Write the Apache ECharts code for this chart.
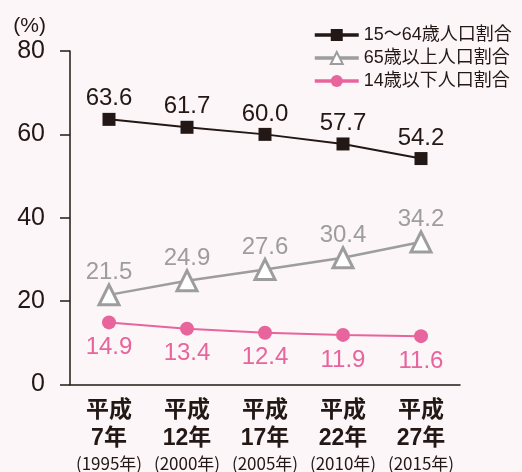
<!DOCTYPE html>
<html>
<head>
<meta charset="utf-8">
<script src="https://cdn.jsdelivr.net/npm/echarts@6/dist/echarts.min.js"></script>
<style>
  html, body { margin: 0; padding: 0; background: #fcf6f8; }
  #chart { width: 522px; height: 472px; }
</style>
</head>
<body>
<div id="chart"></div>
<script>
// data
var eras = ['平成', '平成', '平成', '平成', '平成'];
var heiseiYears = ['7年', '12年', '17年', '22年', '27年'];
var westernYears = ['(1995年)', '(2000年)', '(2005年)', '(2010年)', '(2015年)'];
var workingAge = [63.6, 61.7, 60.0, 57.7, 54.2];
var elderly = [21.5, 24.9, 27.6, 30.4, 34.2];
var children = [14.9, 13.4, 12.4, 11.9, 11.6];
var seriesNames = ['15～64歳人口割合', '65歳以上人口割合', '14歳以下人口割合'];

var font = '"Liberation Sans", "Noto Sans CJK JP", sans-serif';
var narrow = '"Liberation Sans Narrow", "Noto Sans CJK JP", sans-serif';
var dark = '#231815';
var gray = '#9d9d9e';
var pink = '#e8649c';

var categories = eras.map(function (e, i) {
  return e + '\n' + heiseiYears[i] + '\n' + westernYears[i];
});

var chart = echarts.init(document.getElementById('chart'));

function oneDecimal(p) {
  return p.value.toFixed(1);
}

chart.setOption({
  backgroundColor: '#fcf6f8',
  textStyle: { fontFamily: font },
  grid: {
    left: 70,
    top: 51,
    width: 390,
    height: 334
  },
  legend: {
    orient: 'vertical',
    left: 308,
    top: 21,
    itemWidth: 44,
    itemHeight: 15,
    itemGap: 5,
    data: seriesNames,
    lineStyle: { width: 3.5 },
    textStyle: { fontSize: 18, color: dark, fontFamily: font }
  },
  xAxis: {
    type: 'category',
    data: categories,
    boundaryGap: true,
    axisLine: { lineStyle: { color: dark, width: 1.5 } },
    axisTick: { length: 10, lineStyle: { color: dark, width: 1.5 } },
    axisLabel: {
      interval: 0,
      margin: 12,
      formatter: function (v) {
        var p = v.split('\n');
        return '{a|' + p[0] + '}\n{a|' + p[1] + '}\n{b|' + p[2] + '}';
      },
      rich: {
        a: { fontSize: 23, fontWeight: 'bold', color: dark, lineHeight: 28, fontFamily: font },
        b: { fontSize: 17, color: dark, lineHeight: 22, fontFamily: narrow }
      }
    }
  },
  yAxis: {
    type: 'value',
    min: 0,
    max: 80,
    interval: 20,
    name: '(%)',
    nameLocation: 'end',
    nameGap: 14,
    nameTextStyle: { fontSize: 21, color: dark, align: 'right', padding: [0, 24, 0, 0], fontFamily: font },
    axisLine: { show: true, lineStyle: { color: dark, width: 1.5 } },
    axisTick: { show: true, length: 10, lineStyle: { color: dark, width: 1.5 } },
    splitLine: { show: false },
    axisLabel: { fontSize: 25, color: dark, margin: 25, fontFamily: font }
  },
  series: [
    {
      name: seriesNames[0],
      type: 'line',
      data: workingAge,
      symbol: 'rect',
      symbolSize: 13,
      lineStyle: { color: dark, width: 2 },
      itemStyle: { color: dark },
      label: {
        show: true,
        position: 'top',
        distance: 2,
        fontSize: 24,
        color: dark,
        fontFamily: font,
        formatter: oneDecimal
      }
    },
    {
      name: seriesNames[1],
      type: 'line',
      data: elderly,
      symbol: 'triangle',
      symbolSize: 20,
      lineStyle: { color: gray, width: 2.5 },
      itemStyle: { color: '#ffffff', borderColor: gray, borderWidth: 3 },
      label: {
        show: true,
        position: 'top',
        distance: -1,
        fontSize: 24,
        color: gray,
        fontFamily: font,
        formatter: oneDecimal
      }
    },
    {
      name: seriesNames[2],
      type: 'line',
      data: children,
      symbol: 'circle',
      symbolSize: 14,
      lineStyle: { color: pink, width: 2 },
      itemStyle: { color: pink },
      label: {
        show: true,
        position: 'bottom',
        distance: 6,
        fontSize: 24,
        color: pink,
        fontFamily: font,
        formatter: oneDecimal
      }
    }
  ]
});
</script>
</body>
</html>
